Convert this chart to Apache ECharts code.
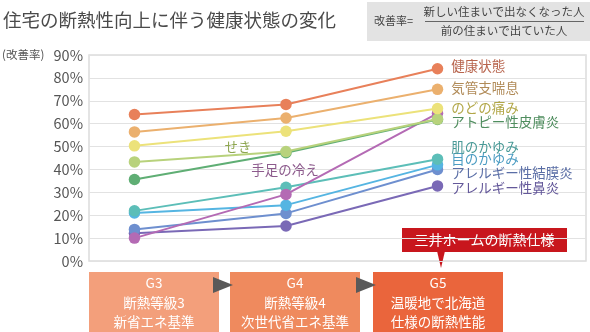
<!DOCTYPE html>
<html>
<head>
<meta charset="utf-8">
<script src="https://cdn.jsdelivr.net/npm/echarts@6/dist/echarts.min.js"></script>
<style>html,body{margin:0;padding:0;background:#fff}#c{width:590px;height:332px}</style>
</head>
<body>
<div id="c"></div>
<script>
// ---- data ----
const categories = ['G3', 'G4', 'G5'];
const yTicks = [0, 10, 20, 30, 40, 50, 60, 70, 80, 90];
const seriesNames = ['健康状態', '気管支喘息', 'のどの痛み', 'せき', 'アトピー性皮膚炎', '手足の冷え', '肌のかゆみ', '目のかゆみ', 'アレルギー性結膜炎', 'アレルギー性鼻炎'];
const kenko = [64, 68.4, 84];
const kikan = [56.4, 62.5, 75];
const nodo = [50.3, 56.7, 66.6];
const seki = [43.3, 47.8, 62];
const atopy = [35.6, 47.3, 61.8];
const teashi = [10, 29.1, 64.5];
const hada = [21.9, 32.2, 44.5];
const me = [21, 24.4, 42];
const ketsumaku = [13.8, 20.8, 40];
const bien = [12.1, 15.3, 32.8];
const gradeLine2 = ['断熱等級3', '断熱等級4', '温暖地で北海道'];
const gradeLine3 = ['新省エネ基準', '次世代省エネ基準', '仕様の断熱性能'];
const titleText = '住宅の断熱性向上に伴う健康状態の変化';
const calloutText = '三井ホームの断熱仕様';

// ---- styles ----
const FONT = '"Noto Sans CJK JP", "Noto Sans", sans-serif';
const styles = [
  {c: '#e8805a', lc: '#b8654e', end: true, dy: -3},
  {c: '#ebb06e', lc: '#b08a57', end: true, dy: -1},
  {c: '#ece27a', lc: '#b2a748', end: true, dy: -1},
  {c: '#b8d27c', lc: '#8ea650', end: false, mid: [-48, -5]},
  {c: '#5fae74', lc: '#4f8d5e', end: true, dy: 2},
  {c: '#b46ab4', lc: '#8c5a8c', end: false, mid: [-1, -25]},
  {c: '#5cbeb8', lc: '#4a9a97', end: true, dy: -12},
  {c: '#55b5e2', lc: '#4b9cc2', end: true, dy: -6},
  {c: '#6e8fcf', lc: '#5a6ea6', end: true, dy: 3},
  {c: '#7a69b6', lc: '#64589a', end: true, dy: 2}
];
const allData = [kenko, kikan, nodo, seki, atopy, teashi, hada, me, ketsumaku, bien];

const series = allData.map((arr, si) => {
  const st = styles[si];
  const name = seriesNames[si];
  return {
    name: name,
    type: 'line',
    symbol: 'circle',
    symbolSize: 11.5,
    lineStyle: {color: st.c, width: 2},
    itemStyle: {color: st.c},
    z: 10 - si,
    emphasis: {disabled: true},
    data: arr.map((v, i) => {
      const item = {value: [i, v]};
      if (i === 2 && st.end) {
        item.label = {show: true, position: 'right', distance: 8, offset: [0, st.dy],
          formatter: name, color: st.lc, fontSize: 13.5, fontFamily: FONT};
      }
      if (i === 1 && st.mid) {
        item.label = {show: true, position: 'inside', offset: st.mid,
          formatter: name, color: st.lc, fontSize: 13.5, fontFamily: FONT};
      }
      return item;
    })
  };
});

// ---- bottom boxes ----
const boxColors = ['#f39f7b', '#ef8a5e', '#ea653c'];
const boxX = [89, 230, 373];
const boxW = 130;
const graphics = [];
categories.forEach((g, i) => {
  graphics.push({type: 'rect', shape: {x: boxX[i], y: 272, width: boxW, height: 62}, style: {fill: boxColors[i]}});
  [g, gradeLine2[i], gradeLine3[i]].forEach((t, k) => {
    graphics.push({type: 'text', x: boxX[i] + boxW / 2, y: 283 + k * 19.5,
      style: {text: t, fill: '#fff', font: '13.5px ' + FONT, textAlign: 'center', textVerticalAlign: 'middle'}});
  });
});
// arrows
[[213, 233], [356, 376]].forEach(a => {
  graphics.push({type: 'polygon', shape: {points: [[a[0], 277], [a[1], 285], [a[0], 293]]}, style: {fill: '#595959'}});
});
// callout
graphics.push({type: 'polygon', shape: {points: [[437, 251], [445, 251], [441, 268]]}, style: {fill: '#c8161d'}});
graphics.push({type: 'rect', shape: {x: 402, y: 228, width: 165, height: 24}, style: {fill: '#c8161d'}});
graphics.push({type: 'text', x: 484.5, y: 240, style: {text: calloutText, fill: '#fff', font: '14px ' + FONT, textAlign: 'center', textVerticalAlign: 'middle'}});
// title
graphics.push({type: 'text', x: 3, y: 20, style: {text: titleText, fill: '#4a4a4a', font: '18.5px ' + FONT, textVerticalAlign: 'middle'}});
// formula box
graphics.push({type: 'rect', shape: {x: 367, y: 2, width: 223, height: 39}, style: {fill: '#e3e3e3'}});
graphics.push({type: 'text', x: 374, y: 21, style: {text: '改善率=', fill: '#444', font: '11px ' + FONT, textVerticalAlign: 'middle'}});
graphics.push({type: 'text', x: 504, y: 12, style: {text: '新しい住まいで出なくなった人', fill: '#444', font: '11.5px ' + FONT, textAlign: 'center', textVerticalAlign: 'middle'}});
graphics.push({type: 'line', shape: {x1: 425, y1: 21.5, x2: 584, y2: 21.5}, style: {stroke: '#666', lineWidth: 1}});
graphics.push({type: 'text', x: 504, y: 31, style: {text: '前の住まいで出ていた人', fill: '#444', font: '11.5px ' + FONT, textAlign: 'center', textVerticalAlign: 'middle'}});
// axis unit
graphics.push({type: 'text', x: 2, y: 55, style: {text: '(改善率)', fill: '#555', font: '11.5px ' + FONT, textVerticalAlign: 'middle'}});

const chart = echarts.init(document.getElementById('c'));
chart.setOption({
  animation: false,
  grid: {left: 89, right: 4, top: 55, bottom: 71, show: true, borderColor: '#dcdcdc', borderWidth: 1.5},
  xAxis: {type: 'value', min: -0.3, max: 2.98, show: false},
  yAxis: {
    type: 'value', min: yTicks[0], max: yTicks[yTicks.length - 1], interval: 10,
    axisLine: {show: false}, axisTick: {show: false},
    splitLine: {lineStyle: {color: '#e2e2e2', width: 1}},
    axisLabel: {formatter: '{value}%', color: '#555', fontSize: 14.5, fontFamily: FONT, margin: 6}
  },
  series: series,
  graphic: graphics
});
</script>
</body>
</html>
